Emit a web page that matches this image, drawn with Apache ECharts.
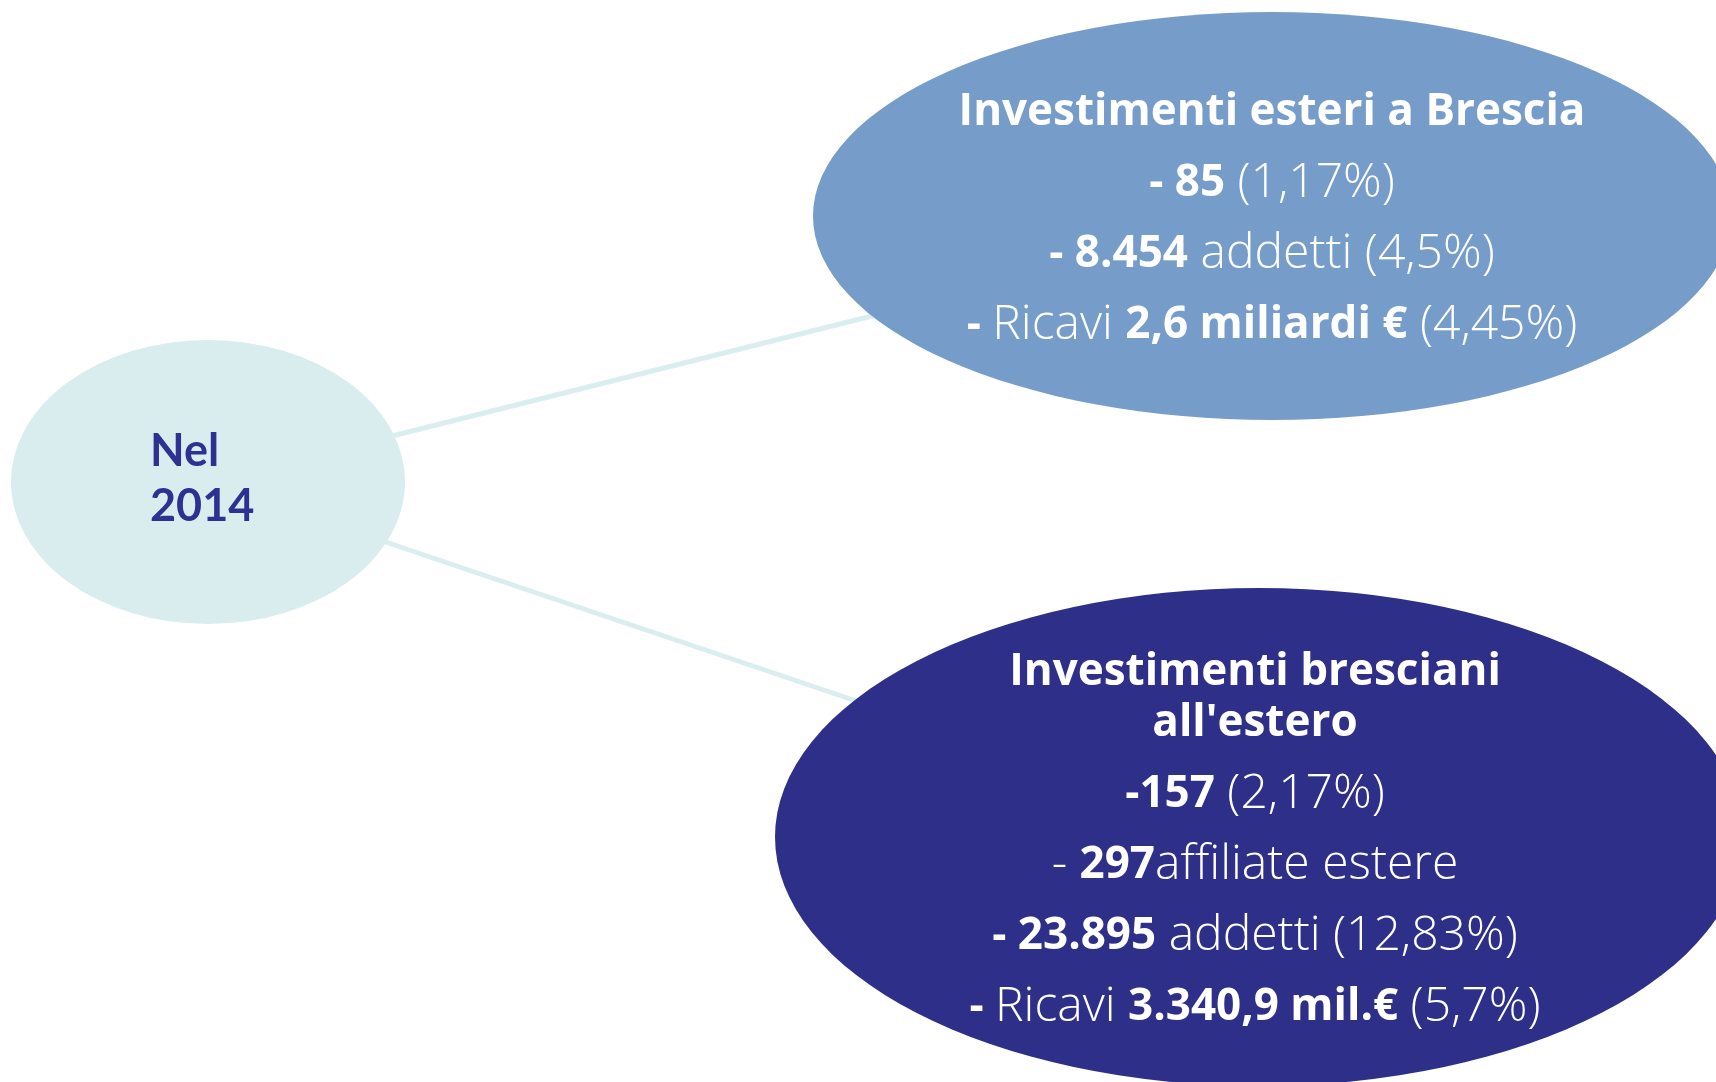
<!DOCTYPE html>
<html>
<head>
<meta charset="utf-8">
<script src="https://cdn.jsdelivr.net/npm/echarts@6/dist/echarts.min.js"></script>
<style>
  html, body { margin: 0; padding: 0; background: #fff; }
  #chart { width: 1716px; height: 1082px; }
</style>
</head>
<body>
<div id="chart"></div>
<script>
// testi del diagramma
var anno = ['Nel', '2014'];
var esteriTitolo = ['Investimenti esteri a Brescia'];
var esteriValori = ['85', '8.454', '2,6 miliardi €'];
var esteriQuote = ['1,17%', '4,5%', '4,45%'];
var brescianiTitolo = ['Investimenti bresciani', "all'estero"];
var brescianiValori = ['157', '297', '23.895', '3.340,9 mil.€'];
var brescianiQuote = ['2,17%', '', '12,83%', '5,7%'];

var chart = echarts.init(document.getElementById('chart'));

var font = '"Open Sans"';

function richStyle(weight, size, lh, color, family) {
    return {fontFamily: family || font, fontWeight: weight, fontSize: size, lineHeight: lh, color: color || '#fff'};
}

var esteriLabel = [
    '{t|' + esteriTitolo[0] + '}',
    '{b|- ' + esteriValori[0] + '}{n| (' + esteriQuote[0] + ')}',
    '{b|- ' + esteriValori[1] + '}{n| addetti (' + esteriQuote[1] + ')}',
    '{b|- }{n|Ricavi }{b|' + esteriValori[2] + '}{n| (' + esteriQuote[2] + ')}'
].join('\n');

var brescianiLabel = [
    '{t1|' + brescianiTitolo[0] + '}',
    '{t2|' + brescianiTitolo[1] + '}',
    '{b|-' + brescianiValori[0] + '}{n| (' + brescianiQuote[0] + ')}',
    '{n|- }{b|' + brescianiValori[1] + '}{n|affiliate estere}',
    '{b|- ' + brescianiValori[2] + '}{n| addetti (' + brescianiQuote[2] + ')}',
    '{b|- }{n|Ricavi }{b|' + brescianiValori[3] + '}{n| (' + brescianiQuote[3] + ')}'
].join('\n');

var option = {
    backgroundColor: '#fff',
    animation: false,
    grid: {left: 0, right: 0, top: 0, bottom: 0},
    xAxis: {type: 'value', min: 0, max: 1716, show: false},
    yAxis: {type: 'value', min: 0, max: 1082, inverse: true, show: false},
    series: [{
        type: 'graph',
        coordinateSystem: 'cartesian2d',
        symbol: 'circle',
        silent: true,
        emphasis: {disabled: true},
        lineStyle: {color: '#daeeef', width: 5, opacity: 1, curveness: 0},
        data: [
            {
                name: 'anno',
                value: [208, 482],
                symbolSize: [394, 284],
                itemStyle: {color: '#daedee'},
                label: {
                    show: true,
                    position: 'inside',
                    align: 'left',
                    offset: [-58, -3],
                    formatter: '{a|' + anno[0] + '}\n{a|' + anno[1] + '}',
                    rich: {a: richStyle('bold', 45, 55, '#2e3192', 'Lato')}
                }
            },
            {
                name: 'esteri',
                value: [1272, 216],
                symbolSize: [918, 408],
                itemStyle: {color: '#769cca'},
                label: {
                    show: true,
                    position: 'inside',
                    offset: [0, 3],
                    formatter: esteriLabel,
                    rich: {
                        t: richStyle('bold', 44, 71),
                        b: richStyle('bold', 44, 71),
                        n: richStyle(300, 48, 71)
                    }
                }
            },
            {
                name: 'bresciani',
                value: [1259, 837],
                symbolSize: [968, 498],
                itemStyle: {color: '#2e2f88'},
                label: {
                    show: true,
                    position: 'inside',
                    offset: [-4, 13],
                    formatter: brescianiLabel,
                    rich: {
                        t1: richStyle('bold', 44, 31),
                        t2: richStyle('bold', 44, 71),
                        b: richStyle('bold', 44, 71),
                        n: richStyle(300, 48, 71)
                    }
                }
            }
        ],
        links: [
            {source: 'anno', target: 'esteri'},
            {source: 'anno', target: 'bresciani'}
        ]
    }]
};

chart.setOption(option);
</script>
</body>
</html>
